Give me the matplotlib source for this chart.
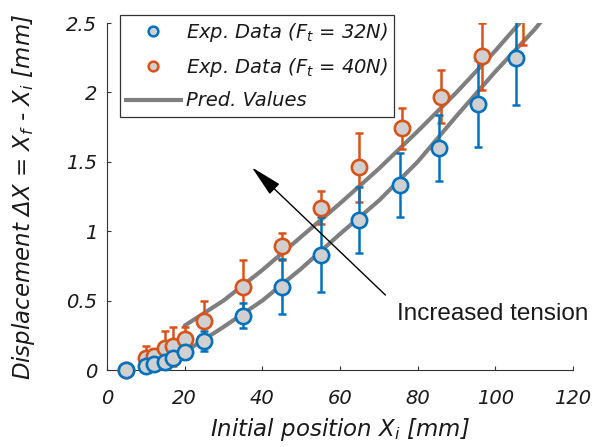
import matplotlib
matplotlib.use("Agg")
import matplotlib.pyplot as plt
from matplotlib.lines import Line2D
from matplotlib.patches import Rectangle

plt.rcParams['font.family'] = ['DejaVu Sans']
plt.rcParams['mathtext.fontset'] = 'dejavusans'

# ---- data ----
x_32 = [5, 10, 12, 15, 17, 20, 25, 35, 45, 55, 65, 75.5, 85.5, 95.5, 105.3]
y_32 = [0.0, 0.03, 0.04, 0.06, 0.09, 0.13, 0.21, 0.39, 0.60, 0.83, 1.08, 1.33, 1.60, 1.92, 2.25]
e_32 = [0.0, 0.02, 0.02, 0.03, 0.03, 0.05, 0.07, 0.09, 0.20, 0.27, 0.24, 0.23, 0.24, 0.31, 0.34]

x_40 = [5, 10, 12, 15, 17, 20, 25, 35, 45, 55, 65, 76, 86, 96.5, 107]
y_40 = [0.0, 0.09, 0.10, 0.16, 0.17, 0.22, 0.35, 0.60, 0.89, 1.17, 1.46, 1.74, 1.97, 2.26, 2.60]
e_40 = [0.0, 0.08, 0.05, 0.12, 0.14, 0.09, 0.15, 0.19, 0.10, 0.12, 0.25, 0.15, 0.19, 0.24, 0.26]

x_pred = [20, 30, 40, 50, 60, 70, 80, 90, 100, 110, 115]
y_pred_32 = [0.13, 0.31, 0.50, 0.73, 0.98, 1.22, 1.50, 1.83, 2.15, 2.45, 2.62]
y_pred_40 = [0.32, 0.50, 0.72, 0.96, 1.20, 1.45, 1.72, 2.00, 2.30, 2.62, 2.80]

labels = ['Exp. Data (F$_t$ = 32N)', 'Exp. Data (F$_t$ = 40N)', 'Pred. Values']
xticks = [0, 20, 40, 60, 80, 100, 120]
yticks = [0, 0.5, 1, 1.5, 2, 2.5]
ytick_labels = ['0', '0.5', '1', '1.5', '2', '2.5']

blue = '#0072BD'
orange = '#D95319'
gray_line = '#7f7f7f'
face = '#d0d0d0'
ink = '#1a1a1a'

fig = plt.figure(figsize=(6.06, 4.47), dpi=100)
ax = fig.add_axes([107/606, 77/447, 466/606, 347/447])

ax.plot(x_pred, y_pred_32, color=gray_line, lw=3.0, zorder=2, solid_capstyle='round')
ax.plot(x_pred, y_pred_40, color=gray_line, lw=3.0, zorder=2, solid_capstyle='round')

clip_rect = Rectangle((-0.05, -0.1), 1.1, 1.1, transform=ax.transAxes, visible=False)
ax.add_patch(clip_rect)

for xs, ys, es, c in [(x_40, y_40, e_40, orange), (x_32, y_32, e_32, blue)]:
    ax.errorbar(xs, ys, yerr=es, fmt='none', ecolor=c, elinewidth=1.8,
                capsize=2.7, capthick=1.8, zorder=3)
    pts = ax.plot(xs, ys, 'o', ms=11, mfc=face, mec=c, mew=1.9, zorder=4)[0]
    pts.set_clip_path(clip_rect)

ax.set_xlim(0, 120)
ax.set_ylim(0, 2.5)
ax.set_xticks(xticks)
ax.set_yticks(yticks)
ax.set_yticklabels(ytick_labels)
for s in ['top', 'right']:
    ax.spines[s].set_visible(False)
for s in ['left', 'bottom']:
    ax.spines[s].set_color('#333333')
    ax.spines[s].set_linewidth(0.8)
ax.tick_params(direction='in', length=3, width=0.8, color='#333333',
               labelsize=14, labelcolor=ink)
ax.tick_params(axis='x', pad=14)
ax.tick_params(axis='y', pad=7)
for lab in ax.get_xticklabels() + ax.get_yticklabels():
    lab.set_fontstyle('italic')

ax.set_xlabel('Initial position X$_i$ [mm]', fontsize=16.5, fontstyle='italic', color=ink)
ax.xaxis.set_label_coords(0.5, -0.133)
ax.xaxis.label.set_va('top')
ax.set_ylabel('Displacement ΔX = X$_f$ - X$_i$ [mm]', fontsize=16.5, fontstyle='italic', color=ink)
ax.yaxis.set_label_coords(-0.15, 0.5)

ax.annotate('', xy=(37.3, 1.46), xytext=(71.7, 0.54),
            arrowprops=dict(arrowstyle='-|>,head_width=0.2,head_length=0.9',
                            color='black', lw=1.0,
                            mutation_scale=22, shrinkA=0, shrinkB=0))
ax.text(74.6, 0.36, 'Increased tension', fontsize=17.5, color=ink,
        family='Liberation Sans', ha='left', va='baseline', clip_on=False)

handles = [
    Line2D([], [], ls='none', marker='o', ms=7, mfc=face, mec=blue, mew=1.8),
    Line2D([], [], ls='none', marker='o', ms=7, mfc=face, mec=orange, mew=1.8),
    Line2D([], [], color=gray_line, lw=3.0),
]
leg = fig.legend(handles, labels, loc='upper left', bbox_to_anchor=(120/606, 1 - 15/447),
                 prop={'style': 'italic', 'size': 14},
                 frameon=True, fancybox=False, edgecolor='#333333', framealpha=1,
                 handlelength=2.8, handletextpad=0.25, labelspacing=0.62,
                 borderpad=0.32, borderaxespad=0)
leg.get_frame().set_linewidth(0.9)
for t in leg.get_texts():
    t.set_color(ink)

fig.savefig('out.png', dpi=100)
